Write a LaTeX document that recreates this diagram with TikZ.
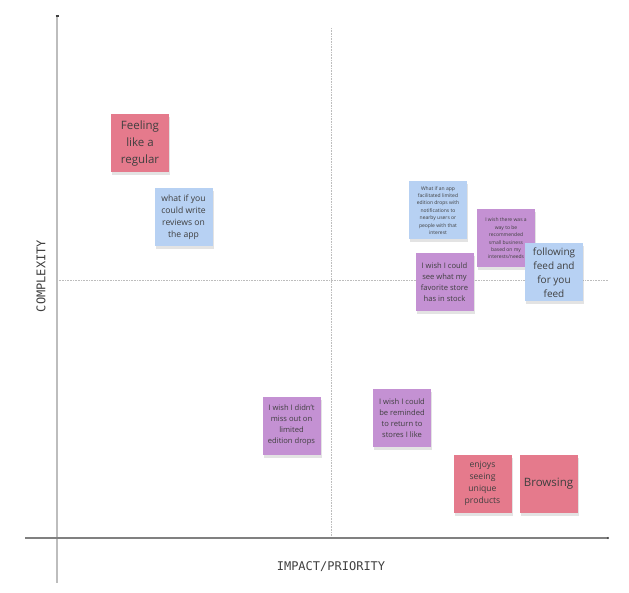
\documentclass[tikz,border=0pt]{standalone}
\usepackage{fontspec}
\setmainfont{Open Sans}
\setmonofont{DejaVu Sans Mono}
\usetikzlibrary{shadows}

\definecolor{notered}{HTML}{E57A8C}
\definecolor{noteblue}{HTML}{B7D1F3}
\definecolor{notepurple}{HTML}{C491D3}
\definecolor{inkgray}{HTML}{3F3F3F}
\definecolor{axisgray}{HTML}{BDBDBD}

\tikzset{
  note/.style={fill=#1, minimum width=58pt, minimum height=58pt, inner sep=1pt,
    align=center, text=inkgray,
    drop shadow={shadow xshift=1pt, shadow yshift=-3pt, opacity=0.22}},
  tiny/.style={font=\fontsize{5}{7.4}\selectfont},
  small/.style={font=\fontsize{7.6}{11}\selectfont},
  medium/.style={font=\fontsize{8.6}{12}\selectfont},
  large/.style={font=\fontsize{10}{14}\selectfont},
  huge/.style={font=\fontsize{11.5}{17}\selectfont},
  axis/.style={axisgray, line width=1.3pt},
  midline/.style={axisgray, densely dotted, line width=0.6pt},
  axislabel/.style={font=\ttfamily\fontsize{12}{14}\selectfont, text=inkgray}
}

\begin{document}
\begin{tikzpicture}[x=1pt, y=-1pt]
  \useasboundingbox (0,0) rectangle (629,593);

  % quadrant lines
  \coordinate (vtop) at (331,28);
  \coordinate (vbot) at (331,538);
  \coordinate (hleft) at (57,280);
  \coordinate (hright) at (608,280);
  \draw[midline] (vtop) -- (vbot);
  \draw[midline] (hleft) -- (hright);

  % axes
  \coordinate (ytop) at (57,15);
  \coordinate (ybot) at (57,583);
  \coordinate (xleft) at (25,538);
  \coordinate (xright) at (608,538);
  \draw[axis] (ytop) -- (ybot);
  \draw[axis, color=gray] (xleft) -- (xright);
  \fill[inkgray] (xright) circle (1.2pt);
  \draw[inkgray, line width=1.3pt] (55.5,16) -- (58.5,16);

  \node[axislabel] (impact) at (331,567) {IMPACT/PRIORITY};
  \node[axislabel, rotate=90] (complexity) at (41,276) {COMPLEXITY};

  % sticky notes
  \node[note=notered, huge] (feeling) at (140,143.5) {Feeling\\like a\\regular};
  \node[note=noteblue, medium] (reviews) at (183.5,217) {what if you\\could write\\reviews on\\the app};
  \node[note=noteblue, tiny] (appdrops) at (438,210.5) {What if an app\\facilitated limited\\edition drops with\\notifications to\\nearby users or\\people with that\\interest};
  \node[note=notepurple, tiny] (recommend) at (506,238.5) {I wish there was a\\way to be\\recommended\\small business\\based on my\\interests/needs};
  \node[note=noteblue, large] (following) at (554,272.5) {following\\feed and\\for you\\feed};
  \node[note=notepurple, small] (instock) at (444.5,282) {I wish I could\\see what my\\favorite store\\has in stock};
  \node[note=notepurple, small] (missout) at (291.5,425.5) {I wish I didn't\\miss out on\\limited\\edition drops};
  \node[note=notepurple, small] (reminded) at (402,418) {I wish I could\\be reminded\\to return to\\stores I like};
  \node[note=notered, medium] (unique) at (482.5,483.5) {enjoys\\seeing\\unique\\products};
  \node[note=notered, huge] (browsing) at (548.5,483.5) {Browsing};
\end{tikzpicture}
\end{document}
